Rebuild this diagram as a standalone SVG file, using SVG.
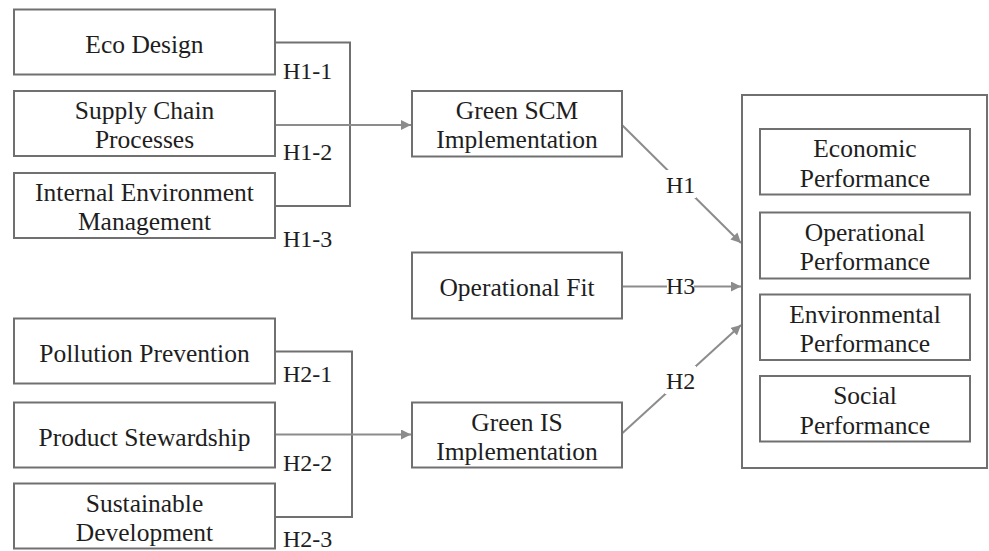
<svg xmlns="http://www.w3.org/2000/svg" width="989" height="551" viewBox="0 0 989 551">
<defs>
<style>
.box{fill:#fff;stroke:#707070;stroke-width:2}
.t{font-family:"Liberation Serif","Times New Roman",serif;font-size:25.5px;fill:#1e1e1e;text-anchor:middle}
.h{font-family:"Liberation Serif","Times New Roman",serif;font-size:24px;fill:#1e1e1e}
.c{fill:none;stroke:#707070;stroke-width:2}
.a{fill:none;stroke:#8c8c8c;stroke-width:2}
.bg{fill:#fff}
</style>
<marker id="arr" viewBox="0 0 10 10" refX="10" refY="5" markerWidth="5" markerHeight="5" orient="auto" markerUnits="strokeWidth">
<path d="M0,0 L10,5 L0,10 z" fill="#8c8c8c"/>
</marker>
</defs>
<rect width="989" height="551" fill="#fff"/>
<g id="connectors">
<path class="c" d="M275,42.5 H350 V206 H275"/>
<path class="a" d="M275,125 H411" marker-end="url(#arr)"/>
<path class="c" d="M275,351.5 H352 V517 H275"/>
<path class="a" d="M275,434.5 H411" marker-end="url(#arr)"/>
<path class="a" d="M622,125 L741,243" marker-end="url(#arr)"/>
<path class="a" d="M622,286.5 H741" marker-end="url(#arr)"/>
<path class="a" d="M622,433.5 L741,325" marker-end="url(#arr)"/>
<rect class="bg" x="665" y="170" width="31" height="28"/>
<rect class="bg" x="667" y="275" width="27" height="22"/>
<rect class="bg" x="665" y="366" width="31" height="28"/>
<text class="h" x="666" y="192.5">H1</text>
<text class="h" x="666" y="293.5">H3</text>
<text class="h" x="666" y="388.5">H2</text>
<text class="h" x="283" y="79">H1-1</text>
<text class="h" x="283" y="160">H1-2</text>
<text class="h" x="283" y="247">H1-3</text>
<text class="h" x="283" y="382">H2-1</text>
<text class="h" x="283" y="471">H2-2</text>
<text class="h" x="283" y="547">H2-3</text>
</g>
<g id="eco-design"><rect class="box" x="14" y="9.5" width="261" height="65"/><text class="t" x="144.5" y="52.5">Eco Design</text></g>
<g id="supply-chain"><rect class="box" x="14" y="91" width="261" height="65"/><text class="t" x="144.5" y="119">Supply Chain</text><text class="t" x="144.5" y="148">Processes</text></g>
<g id="internal-env"><rect class="box" x="14" y="173" width="261" height="65"/><text class="t" x="144.5" y="201">Internal Environment</text><text class="t" x="144.5" y="230">Management</text></g>
<g id="pollution"><rect class="box" x="14" y="318.5" width="261" height="65"/><text class="t" x="144.5" y="362">Pollution Prevention</text></g>
<g id="stewardship"><rect class="box" x="14" y="402.5" width="261" height="65"/><text class="t" x="144.5" y="446">Product Stewardship</text></g>
<g id="sustainable"><rect class="box" x="14" y="483.5" width="261" height="65"/><text class="t" x="144.5" y="511.5">Sustainable</text><text class="t" x="144.5" y="540.5">Development</text></g>
<g id="green-scm"><rect class="box" x="412" y="91" width="210" height="65.5"/><text class="t" x="517" y="118.5">Green SCM</text><text class="t" x="517" y="147.5">Implementation</text></g>
<g id="op-fit"><rect class="box" x="412" y="252.5" width="210" height="66"/><text class="t" x="517" y="296">Operational Fit</text></g>
<g id="green-is"><rect class="box" x="412" y="402.5" width="210" height="65"/><text class="t" x="517" y="430.5">Green IS</text><text class="t" x="517" y="459.5">Implementation</text></g>
<g id="performance"><rect class="box" x="742" y="95" width="245" height="373"/></g>
<g id="economic"><rect class="box" x="760" y="129" width="210" height="65.5"/><text class="t" x="865" y="157">Economic</text><text class="t" x="865" y="186.5">Performance</text></g>
<g id="operational"><rect class="box" x="760" y="212.5" width="210" height="66"/><text class="t" x="865" y="240.5">Operational</text><text class="t" x="865" y="270">Performance</text></g>
<g id="environmental"><rect class="box" x="760" y="294.5" width="210" height="65.5"/><text class="t" x="865" y="322.5">Environmental</text><text class="t" x="865" y="352">Performance</text></g>
<g id="social"><rect class="box" x="760" y="376" width="210" height="65.5"/><text class="t" x="865" y="404">Social</text><text class="t" x="865" y="433.5">Performance</text></g>
</svg>
